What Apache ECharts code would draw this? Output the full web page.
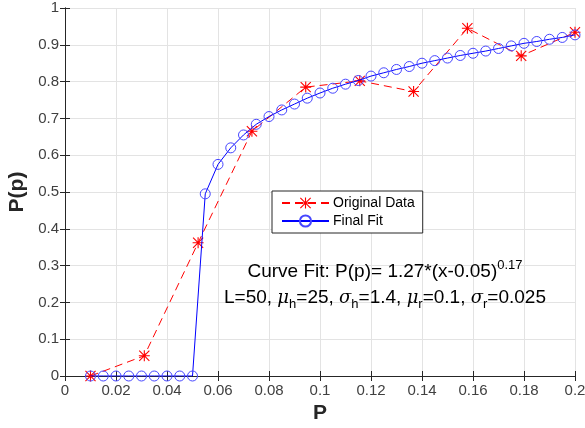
<!DOCTYPE html>
<html>
<head>
<meta charset="utf-8">
<script src="https://cdn.jsdelivr.net/npm/echarts@6/dist/echarts.min.js"></script>
<style>
  html, body { margin: 0; padding: 0; background: #fff; }
  #chart { width: 585px; height: 428px; }
</style>
</head>
<body>
<div id="chart"></div>
<script>
// original data (red stars)
const origX = [0.01, 0.0311, 0.0522, 0.0733, 0.0944, 0.1156, 0.1367, 0.1578, 0.1789, 0.2]
const origY = [0, 0.055, 0.362, 0.665, 0.785, 0.802, 0.773, 0.945, 0.870, 0.934]

// final fit (blue circles)
const fitX = [
  0.01, 0.015, 0.02, 0.025, 0.03, 0.035, 0.04, 0.045, 0.05, 0.055,
  0.06, 0.065, 0.07, 0.075, 0.08, 0.085, 0.09, 0.095, 0.1, 0.105,
  0.11, 0.115, 0.12, 0.125, 0.13, 0.135, 0.14, 0.145, 0.15, 0.155,
  0.16, 0.165, 0.17, 0.175, 0.18, 0.185, 0.19, 0.195, 0.2
]
const fitY = [
  0, 0, 0, 0, 0, 0, 0, 0, 0, 0.495,
  0.575, 0.62, 0.655, 0.684, 0.705, 0.723, 0.739, 0.755, 0.769, 0.782,
  0.793, 0.803, 0.815, 0.824, 0.833, 0.841, 0.850, 0.857, 0.864, 0.871,
  0.877, 0.883, 0.890, 0.897, 0.904, 0.909, 0.915, 0.920, 0.927
]

const legendNames = ['Original Data', 'Final Fit']

const FONT = "'Liberation Sans', Arial, Helvetica, sans-serif"
const AXIS_COLOR = '#262626'
const LABEL_COLOR = '#404040'
const GRID_COLOR = '#e3e3e3'

// matlab style '*' marker
const STAR = 'path://M9 0h2v20h-2zM0 9h20v2h-20zM1.5 0.1L19.9 18.5L18.5 19.9L0.1 1.5zM18.5 0.1L19.9 1.5L1.5 19.9L0.1 18.5z'

const zip = (xs, ys) => xs.map((x, i) => [x, ys[i]])

const chart = echarts.init(document.getElementById('chart'))

// box axes (top / right) only carry the inward ticks
const boxAxis = (pos, extra) => Object.assign({
  type: 'value',
  position: pos,
  axisLine: { show: true, lineStyle: { color: AXIS_COLOR, width: 1 } },
  axisTick: { show: true, inside: true, length: 5, lineStyle: { color: AXIS_COLOR } },
  axisLabel: { show: false },
  splitLine: { show: false }
}, extra)

const option = {
  animation: false,
  backgroundColor: '#fff',
  textStyle: { fontFamily: FONT },
  grid: { left: 65, right: 10, top: 8, bottom: 52, outerBoundsMode: 'none', containLabel: false },
  legend: {
    data: legendNames,
    orient: 'vertical',
    left: 272,
    top: 191,
    padding: [5, 8, 5, 9],
    itemWidth: 47,
    itemHeight: 14,
    itemGap: 4,
    borderColor: AXIS_COLOR,
    borderWidth: 1,
    backgroundColor: '#fff',
    textStyle: { fontFamily: FONT, fontSize: 14, color: '#000', padding: [0, 0, 0, -1] }
  },
  xAxis: [
    {
      type: 'value',
      min: 0,
      max: 0.2,
      interval: 0.02,
      name: 'P',
      nameLocation: 'middle',
      nameGap: 27,
      nameTextStyle: { fontFamily: FONT, fontSize: 21, fontWeight: 'bold', color: AXIS_COLOR },
      axisLine: { show: true, onZero: false, lineStyle: { color: AXIS_COLOR, width: 1 } },
      axisTick: { show: true, inside: true, length: 5, lineStyle: { color: AXIS_COLOR } },
      axisLabel: {
        fontSize: 15,
        color: LABEL_COLOR,
        margin: 7,
        formatter: v => String(+v.toFixed(2))
      },
      splitLine: { show: true, lineStyle: { color: GRID_COLOR, width: 1 } }
    },
    boxAxis('top', { min: 0, max: 0.2, interval: 0.02 })
  ],
  yAxis: [
    {
      type: 'value',
      min: 0,
      max: 1,
      interval: 0.1,
      name: 'P(p)',
      nameLocation: 'middle',
      nameGap: 35,
      nameRotate: 90,
      nameTextStyle: { fontFamily: FONT, fontSize: 21, fontWeight: 'bold', color: AXIS_COLOR },
      axisLine: { show: true, onZero: false, lineStyle: { color: AXIS_COLOR, width: 1 } },
      axisTick: { show: true, inside: true, length: 5, lineStyle: { color: AXIS_COLOR } },
      axisLabel: {
        fontSize: 15,
        color: LABEL_COLOR,
        margin: 6,
        formatter: v => String(+v.toFixed(1))
      },
      splitLine: { show: true, lineStyle: { color: GRID_COLOR, width: 1 } }
    },
    boxAxis('right', { min: 0, max: 1, interval: 0.1 })
  ],
  graphic: [
    {
      type: 'text',
      x: 385,
      y: 272,
      z: 100,
      style: {
        text: '{n|Curve Fit: P(p)= 1.27*(x-0.05)}{sup|0.17}',
        align: 'center',
        verticalAlign: 'middle',
        rich: {
          n: { fontFamily: FONT, fontSize: 19, color: '#000', lineHeight: 26, verticalAlign: 'middle' },
          sup: { fontFamily: FONT, fontSize: 13, color: '#000', lineHeight: 13, verticalAlign: 'top' }
        }
      }
    },
    {
      type: 'text',
      x: 385,
      y: 298,
      z: 100,
      style: {
        text: '{n|L=50, }{g|μ}{sub|h}{n|=25, }{g|σ}{sub|h}{n|=1.4, }{g|μ}{sub|r}{n|=0.1, }{g|σ}{sub|r}{n|=0.025}',
        align: 'center',
        verticalAlign: 'middle',
        rich: {
          n: { fontFamily: FONT, fontSize: 19, color: '#000', lineHeight: 26, verticalAlign: 'middle' },
          g: { fontFamily: "'DejaVu Serif', serif", fontStyle: 'italic', fontSize: 18, color: '#000', lineHeight: 26, verticalAlign: 'middle' },
          sub: { fontFamily: FONT, fontSize: 13, color: '#000', lineHeight: 13, verticalAlign: 'bottom' }
        }
      }
    }
  ],
  series: [
    {
      name: legendNames[0],
      type: 'line',
      data: zip(origX, origY),
      symbol: STAR,
      symbolSize: 11,
      showAllSymbol: true,
      itemStyle: { color: '#ff0000', borderWidth: 0 },
      lineStyle: { color: '#ff0000', width: 1, type: [8, 5] },
      z: 2
    },
    {
      name: legendNames[1],
      type: 'line',
      data: zip(fitX, fitY),
      symbol: 'circle',
      symbolSize: 10,
      showAllSymbol: true,
      itemStyle: { color: 'rgba(0,0,255,0)', borderColor: '#4646ff', borderWidth: 1 },
      lineStyle: { color: '#0000ff', width: 1 },
      z: 3
    }
  ]
}

chart.setOption(option)
</script>
</body>
</html>
